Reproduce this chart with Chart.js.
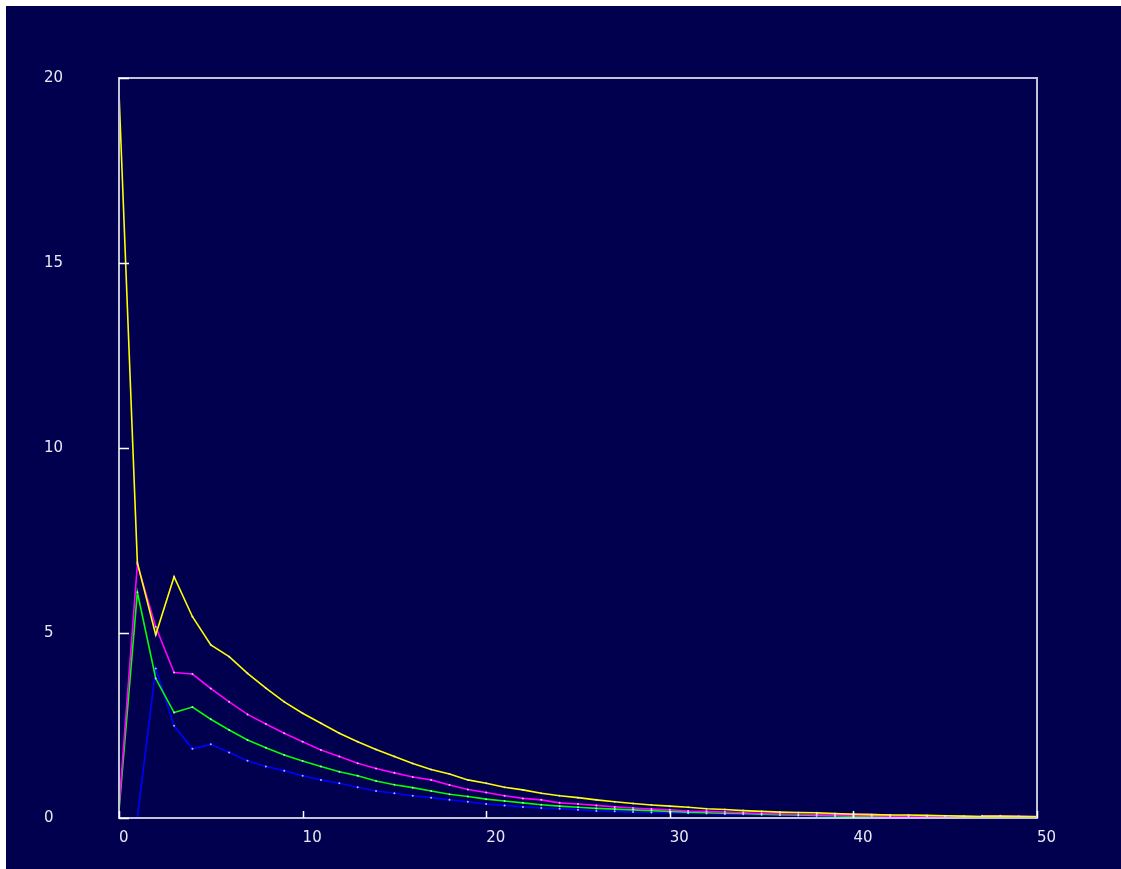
<!DOCTYPE html>
<html>
<head>
<meta charset="utf-8">
<script src="https://cdn.jsdelivr.net/npm/chart.js@4.4.0/dist/chart.umd.min.js"></script>
<style>
  html, body { margin: 0; padding: 0; background: #ffffff; overflow: hidden; }
  #marco { position: absolute; left: 6px; top: 6px; width: 1115px; height: 863px; background: #00004f; }
</style>
</head>
<body>
<div id="marco"><canvas id="grafica" width="1115" height="863"></canvas></div>
<script>
// eje x: 0..50
const pasos = [];
for (let i = 0; i <= 50; i++) pasos.push(i);

const serieAmarilla = [19.6, 6.9, 4.95, 6.52, 5.44, 4.68, 4.36, 3.91, 3.51, 3.14, 2.83, 2.56, 2.29, 2.06, 1.85, 1.66, 1.47, 1.31, 1.19, 1.03, 0.94,
  0.83, 0.76, 0.67, 0.6, 0.55, 0.49, 0.44, 0.39, 0.35, 0.32, 0.29, 0.25, 0.23, 0.2, 0.18, 0.16, 0.15, 0.14, 0.12, 0.1,
  0.09, 0.08, 0.08, 0.07, 0.06, 0.05, 0.04, 0.04, 0.03, 0.03];
const serieMagenta = [0.3, 6.85, 5.17, 3.93, 3.89, 3.5, 3.14, 2.8, 2.54, 2.29, 2.06, 1.84, 1.66, 1.48, 1.34, 1.22, 1.11, 1.03, 0.89, 0.77, 0.69,
  0.6, 0.53, 0.49, 0.41, 0.38, 0.34, 0.3, 0.27, 0.24, 0.22, 0.19, 0.18, 0.16, 0.14, 0.12, 0.11, 0.1, 0.09, 0.08, 0.07,
  0.06, 0.05, 0.05, 0.04, 0.03, 0.03, 0.02, 0.02, 0.02, 0.01];
const serieVerde = [0.2, 6.1, 3.77, 2.85, 3.0, 2.67, 2.38, 2.11, 1.9, 1.7, 1.54, 1.39, 1.25, 1.14, 1.0, 0.9, 0.82, 0.73, 0.64, 0.58, 0.51,
  0.46, 0.41, 0.36, 0.32, 0.29, 0.26, 0.24, 0.22, 0.2, 0.18, 0.16, 0.14, 0.13, 0.12, 0.1, 0.09, 0.08, 0.07, 0.06, 0.05,
  0.05, 0.04, 0.04, 0.03, 0.03, 0.02, 0.02, 0.02, 0.01, 0.01];
const serieAzul = [null, 0, 4.04, 2.49, 1.87, 1.99, 1.77, 1.55, 1.39, 1.28, 1.14, 1.03, 0.94, 0.83, 0.73, 0.67, 0.6, 0.55, 0.49, 0.44, 0.38,
  0.34, 0.3, 0.27, 0.25, 0.22, 0.19, 0.18, 0.16, 0.15, 0.14, 0.13, 0.12, 0.11, 0.1, 0.09, 0.08, 0.07, 0.06, 0.05, 0.05,
  0.04, 0.04, 0.03, 0.03, 0.02, 0.02, 0.02, 0.01, 0.01, 0.01];
// series casi en cero que solo asoman al final
const serieRosa = [null, null, null, null, null, null, null, null, null, null, null, null, null, null, null, null, null, null, null, null, null,
  null, null, null, null, null, null, null, null, null, null, null, null, null, null, null, null, null, 0.11, 0.1, 0.1,
  0.09, 0.08, null, null, null, null, null, null, null, null];
const serieMorada = [null, null, null, null, null, null, null, null, null, null, null, null, null, null, null, null, null, null, null, null, null,
  null, null, null, null, null, null, null, null, null, null, null, null, null, null, null, null, null, null, null, null,
  null, null, null, 0.05, 0.05, 0.04, 0.04, null, null, null];
const serieSalmon = [null, null, null, null, null, null, null, null, null, null, null, null, null, null, null, null, null, null, null, null, null,
  null, null, null, null, null, null, null, null, null, null, null, null, null, null, null, null, null, null, null, null,
  null, null, null, null, null, null, 0.06, 0.06, 0.05, 0.04];

const ticksY = [0, 5, 10, 15, 20];
const ticksX = [0, 10, 20, 30, 40, 50];

function serie(datos, color) {
  return {
    data: datos.map((v, i) => ({ x: pasos[i], y: v })),
    borderColor: color,
    borderWidth: 1.6,
    pointRadius: 1,
    pointBorderWidth: 0,
    pointBackgroundColor: "rgba(230,230,255,0.8)",
    spanGaps: false
  };
}

// marco del area y marcas hacia dentro
const marco = {
  id: "marco",
  afterDraw(chart) {
    const c = chart.ctx, a = chart.chartArea;
    const sx = chart.scales.x, sy = chart.scales.y;
    c.save();
    c.strokeStyle = "#c4c4d8";
    c.lineWidth = 2;
    c.strokeRect(a.left, a.top, a.right - a.left, a.bottom - a.top);
    c.strokeStyle = "#ffffff";
    c.lineWidth = 1.5;
    ticksY.forEach(v => {
      const y = Math.round(sy.getPixelForValue(v)) + 0.5;
      c.beginPath(); c.moveTo(a.left, y); c.lineTo(a.left + 10, y); c.stroke();
    });
    ticksX.forEach(v => {
      const x = Math.round(sx.getPixelForValue(v)) + 0.5;
      c.beginPath(); c.moveTo(x, a.bottom); c.lineTo(x, a.bottom - 7); c.stroke();
    });
    c.restore();
  }
};

const ctx = document.getElementById("grafica").getContext("2d");
new Chart(ctx, {
  type: "line",
  data: {
    datasets: [
      serie(serieAmarilla, "#ffff00"),
      serie(serieMagenta, "#ff00ff"),
      serie(serieVerde, "#00ff00"),
      serie(serieAzul, "#0000ff"),
      serie(serieRosa, "#ff70c8"),
      serie(serieMorada, "#9a00ee"),
      serie(serieSalmon, "#f08a80")
    ]
  },
  options: {
    responsive: false,
    animation: false,
    layout: { padding: { left: 38, top: 72, right: 84, bottom: 0 } },
    plugins: { legend: { display: false }, tooltip: { enabled: false } },
    scales: {
      x: {
        type: "linear",
        min: 0, max: 50,
        afterBuildTicks: s => { s.ticks = ticksX.map(v => ({ value: v })); },
        afterFit: s => { s.height = 51; },
        grid: { display: false },
        border: { display: false },
        ticks: { color: "#e8e8f4", font: { family: "DejaVu Sans", size: 15 }, padding: 3, align: "start", maxRotation: 0 }
      },
      y: {
        min: 0, max: 20,
        afterBuildTicks: s => { s.ticks = ticksY.map(v => ({ value: v })); },
        afterFit: s => { s.width = 75; },
        grid: { display: false },
        border: { display: false },
        ticks: { color: "#e8e8f4", font: { family: "DejaVu Sans", size: 15 }, crossAlign: "far" }
      }
    }
  },
  plugins: [marco]
});
</script>
</body>
</html>
